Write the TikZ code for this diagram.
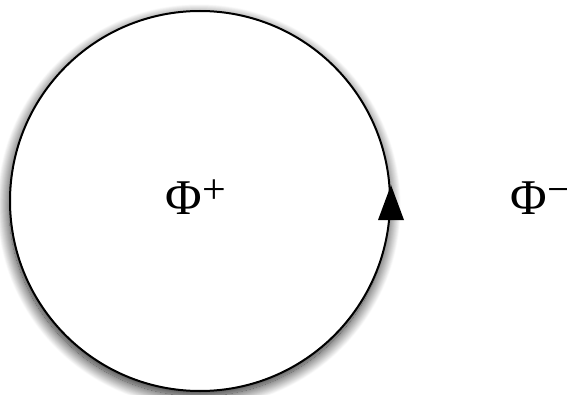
\documentclass[tikz,border=0pt]{standalone}
\usepackage{fontspec}
\setmainfont{Liberation Serif}
\usetikzlibrary{shadows.blur}
\newcommand{\supsign}[1]{\raisebox{11pt}{\fontsize{42}{42}\selectfont #1}}
\tikzset{
  loopnode/.style={circle, draw=black, line width=2pt, fill=white, inner sep=0pt,
    minimum size=380pt,
    blur shadow={shadow xshift=-1pt, shadow yshift=-5pt, shadow blur radius=12pt, shadow blur steps=24, shadow opacity=90}},
  phil/.style={anchor=base west, inner sep=0pt, font=\fontsize{50}{60}\selectfont}
}
\begin{document}
\begin{tikzpicture}[x=1pt,y=1pt]
\useasboundingbox (0,0) rectangle (567,394);
\node[loopnode] (loop) at (200,193) {};
\fill[black] ([yshift=16pt]loop.east) -- ([xshift=-13pt,yshift=-19pt]loop.east) -- ([xshift=13pt,yshift=-19pt]loop.east) -- cycle;
\node[phil] (phiplus) at (165,179) {Φ\kern1pt\supsign{+}};
\node[phil] (phiminus) at (510,179) {Φ\kern1pt\supsign{−}};
\end{tikzpicture}
\end{document}
